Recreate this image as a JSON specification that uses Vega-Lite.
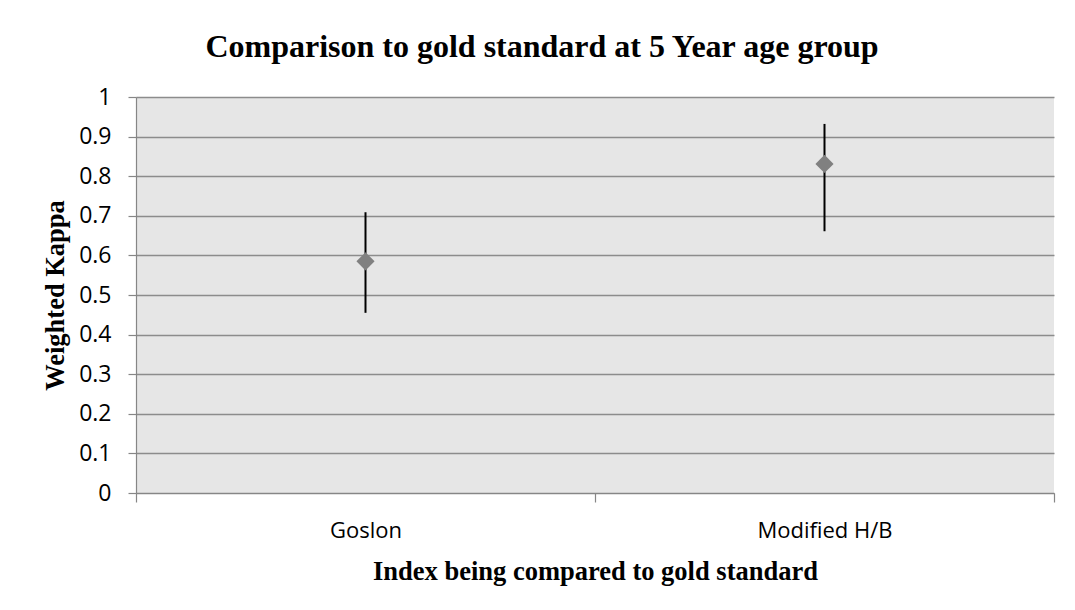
{
  "$schema": "https://vega.github.io/schema/vega-lite/v6.json",
  "width": 918,
  "height": 396,
  "autosize": {"type": "none"},
  "padding": {"left": 136, "top": 97, "right": 21, "bottom": 117},
  "background": "white",
  "title": {
    "text": "Comparison to gold standard at 5 Year age group",
    "font": "Liberation Serif",
    "fontSize": 32,
    "fontWeight": "bold",
    "color": "black",
    "anchor": "middle",
    "dx": -53,
    "offset": 22
  },
  "data": {
    "values": [
      {"index": "Goslon", "kappa": 0.585, "lower": 0.455, "upper": 0.709},
      {"index": "Modified H/B", "kappa": 0.831, "lower": 0.661, "upper": 0.932}
    ]
  },
  "config": {
    "view": {"fill": "#e6e6e6", "stroke": null},
    "axis": {
      "labelFont": "Open Sans",
      "labelFontSize": 22,
      "labelColor": "black",
      "titleFont": "Liberation Serif",
      "titleFontSize": 26.5,
      "titleFontWeight": "bold",
      "titleColor": "black",
      "domainColor": "#868686",
      "tickColor": "#868686",
      "gridColor": "#8c8c8c",
      "gridWidth": 1.5,
      "domainWidth": 1.2,
      "tickWidth": 1.2
    }
  },
  "encoding": {
    "x": {
      "field": "index",
      "type": "nominal",
      "sort": null,
      "scale": {"paddingInner": 0, "paddingOuter": 0},
      "axis": {
        "title": "Index being compared to gold standard",
        "labelAngle": 0,
        "tickBand": "extent",
        "tickSize": 9,
        "labelPadding": 18,
        "titlePadding": 17,
        "grid": false
      }
    }
  },
  "layer": [
    {
      "mark": {"type": "rule", "color": "black", "strokeWidth": 2},
      "encoding": {
        "y": {
          "field": "lower",
          "type": "quantitative",
          "scale": {"domain": [0, 1]},
          "axis": {
            "title": "Weighted Kappa",
            "values": [0, 0.1, 0.2, 0.3, 0.4, 0.5, 0.6, 0.7, 0.8, 0.9, 1],
            "format": "~g",
            "labelOverlap": false,
            "labelFontSize": 23,
            "tickSize": 8,
            "labelPadding": 17,
            "titlePadding": 9,
            "grid": true,
            "domain": true
          }
        },
        "y2": {"field": "upper"}
      }
    },
    {
      "mark": {"type": "point", "shape": "diamond", "filled": true, "color": "#808080", "size": 330, "opacity": 1},
      "encoding": {
        "y": {
          "field": "kappa",
          "type": "quantitative",
          "axis": {
            "title": "Weighted Kappa",
            "values": [0, 0.1, 0.2, 0.3, 0.4, 0.5, 0.6, 0.7, 0.8, 0.9, 1],
            "format": "~g",
            "labelOverlap": false,
            "labelFontSize": 23,
            "tickSize": 8,
            "labelPadding": 17,
            "titlePadding": 9,
            "grid": true,
            "domain": true
          }
        }
      }
    }
  ]
}
